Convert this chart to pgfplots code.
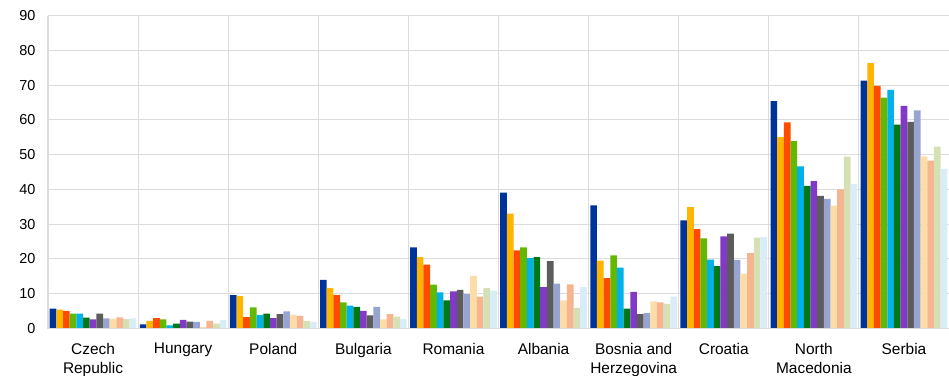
\documentclass[border=0pt]{standalone}
\usepackage{pgfplots}
\usepackage{pgfplotstable}
\pgfplotsset{compat=1.18}
\usepackage{fontspec}
\setmainfont{Liberation Sans}
\definecolor{c1}{HTML}{003399}
\definecolor{c2}{HTML}{FFB400}
\definecolor{c3}{HTML}{FF4B00}
\definecolor{c4}{HTML}{65B800}
\definecolor{c5}{HTML}{00B1EA}
\definecolor{c6}{HTML}{007816}
\definecolor{c7}{HTML}{8139C6}
\definecolor{c8}{HTML}{5C5C5C}
\definecolor{c9}{HTML}{98A4D0}
\definecolor{c10}{HTML}{FDDDA7}
\definecolor{c11}{HTML}{F6B48F}
\definecolor{c12}{HTML}{D5E1B4}
\definecolor{c13}{HTML}{D9EDF8}
\definecolor{gridc}{HTML}{DCDCDC}
\pgfplotstableread{
x s1 s2 s3 s4 s5 s6 s7 s8 s9 s10 s11 s12 s13
0 5.7 5.4 5.1 4.3 4.3 3.1 2.6 4.3 2.9 2.8 3.2 2.7 2.9
1 1.2 2.2 3.0 2.6 0.9 1.4 2.5 2.0 1.9 0.4 2.2 1.4 2.4
2 9.6 9.3 3.3 6.1 3.9 4.3 3.0 4.1 4.9 3.9 3.6 2.1 1.9
3 14.0 11.6 9.6 7.5 6.6 6.2 5.1 3.8 6.2 2.6 4.1 3.4 2.8
4 23.3 20.5 18.4 12.6 10.4 8.1 10.7 11.1 9.9 15.1 9.2 11.6 10.9
5 39.1 33.0 22.5 23.3 20.2 20.5 11.9 19.4 12.9 8.1 12.7 5.9 11.9
6 35.4 19.5 14.5 21.0 17.5 5.7 10.5 4.1 4.4 7.8 7.5 7.1 9.2
7 31.1 34.9 28.6 25.9 19.8 17.9 26.5 27.3 19.7 15.8 21.7 26.1 26.3
8 65.4 55.0 59.3 53.9 46.6 41.0 42.4 38.1 37.3 35.3 40.0 49.4 41.6
9 71.3 76.3 69.8 66.4 68.6 58.6 64.0 59.4 62.7 49.5 48.3 52.3 45.8
}\datatable
\begin{document}
\begin{tikzpicture}
\path[use as bounding box] (0,0) rectangle (949bp,376bp);
\begin{axis}[
  at={(48bp,47.5bp)}, anchor=south west,
  scale only axis, width=901bp, height=313bp,
  xmin=-0.5, xmax=9.5, ymin=0, ymax=90,
  ybar=0pt, bar width=0.0740,
  axis line style={draw=none},
  xtick={0,...,9},
  xticklabels={{Czech\\Republic},Hungary,Poland,Bulgaria,Romania,Albania,{Bosnia and\\Herzegovina},Croatia,{North\\Macedonia},Serbia},
  minor xtick={-0.5,0.5,1.5,2.5,3.5,4.5,5.5,6.5,7.5,8.5},
  xminorgrids, ymajorgrids,
  ytick={0,10,...,90},
  major tick length=0pt, minor tick length=0pt,
  grid style={gridc, line width=1.1pt},
  minor grid style={gridc, line width=1.1pt},
  xticklabel style={font=\fontsize{15.5}{19}\selectfont, align=center, yshift=-11bp},
  yticklabel style={font=\fontsize{14.5}{17}\selectfont, xshift=-9bp},
  /pgf/number format/assume math mode=true,
  clip=false,
]
\pgfplotsforeachungrouped \i in {1,...,13}{
  \edef\tmp{\noexpand\addplot[fill=c\i, draw=none] table[x=x, y=s\i] {\noexpand\datatable};}
  \tmp
}
\draw[gridc, line width=1.8pt] (axis cs:-0.5,0) -- (axis cs:9.5,0);
\end{axis}
\end{tikzpicture}
\end{document}
